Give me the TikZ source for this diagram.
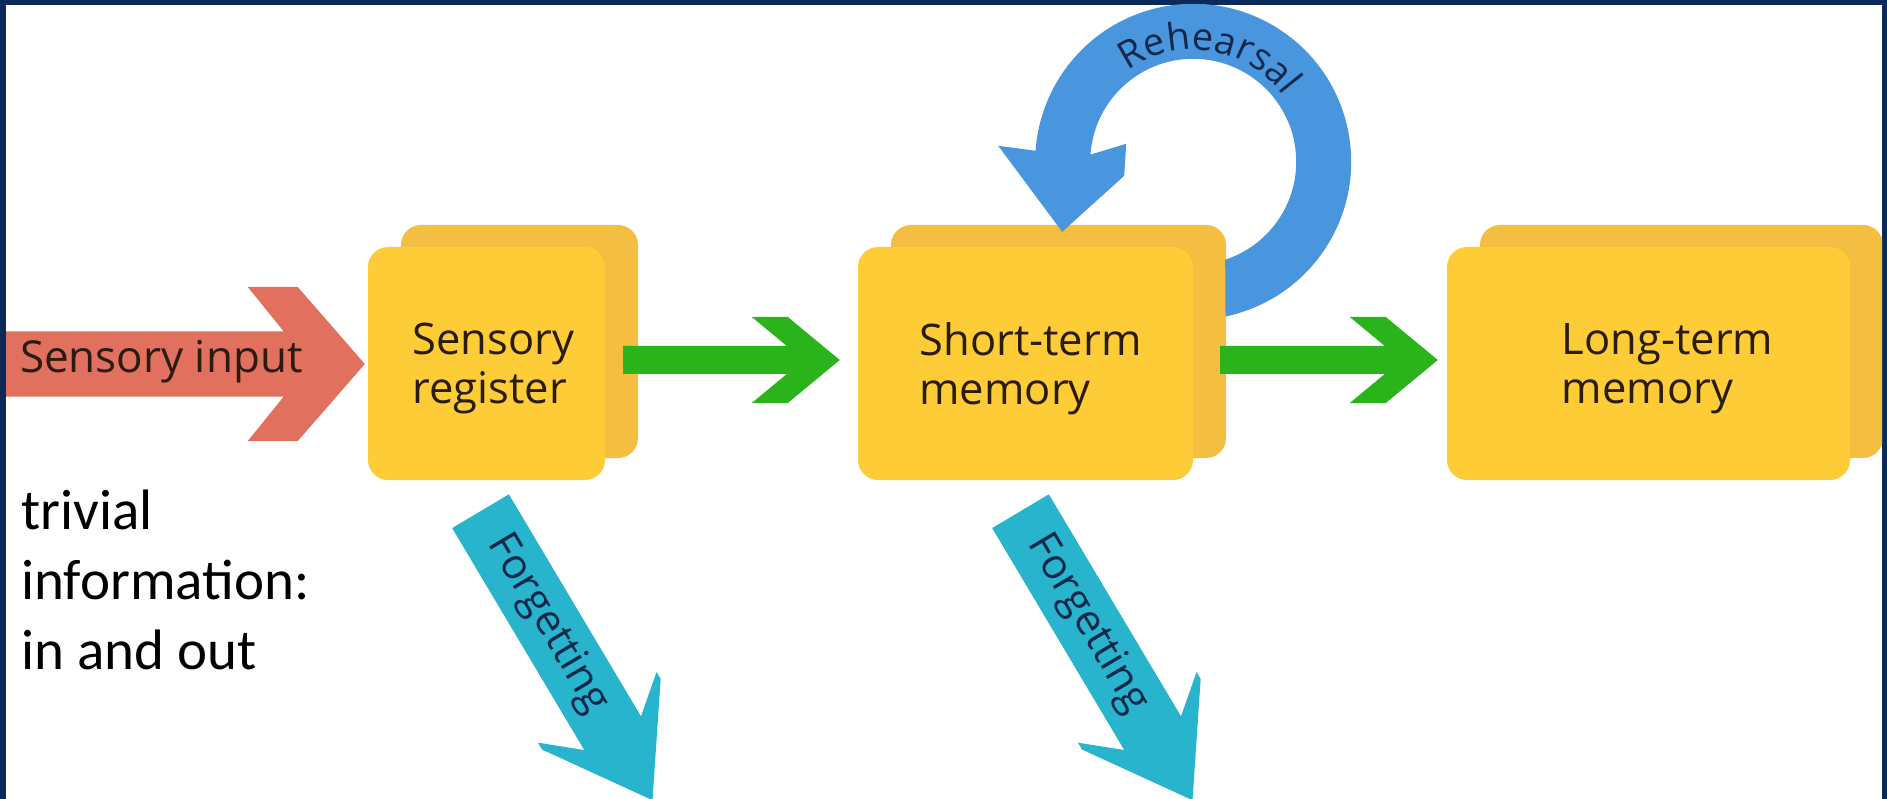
\documentclass[tikz,border=0pt]{standalone}
\usepackage{fontspec}
\setmainfont{Open Sans}
\newfontfamily\calibfont{Carlito}
\usetikzlibrary{calc,decorations.text}
\definecolor{navy}{HTML}{0B2A5A}
\definecolor{salmon}{HTML}{E2705E}
\definecolor{boxfront}{HTML}{FECC36}
\definecolor{boxback}{HTML}{F3BE42}
\definecolor{greenar}{HTML}{2BB31C}
\definecolor{bluear}{HTML}{4A96DE}
\definecolor{cyanar}{HTML}{28B4CC}
\definecolor{ink}{HTML}{2A1C10}
\definecolor{rtext}{HTML}{13294B}
\newcommand\lblfont{\fontsize{43.5}{49}\selectfont}
\newcommand\rehfont{\fontsize{38}{44}\selectfont}
% chevron block arrow: #1 start, #2 tip, #3 shaft half width, #4 head half width,
% #5 head length, #6 notch depth, #7 flat, #8 colour
\newcommand\chev[8]{%
  \path let \p1=(#1), \p2=(#2) in \pgfextra{%
    \pgfmathsetmacro\chL{veclen(\x2-\x1,\y2-\y1)}%
    \pgfmathsetmacro\chA{atan2(\y2-\y1,\x2-\x1)}%
    \xdef\chL{\chL}\xdef\chA{\chA}};
  \begin{scope}[shift={(#1)}, rotate=\chA]
    \fill[#8] (0,-#3) -- ({\chL-#5+#6},-#3) -- ({\chL-#5},-#4) -- ({\chL-#5+#7},-#4)
      -- (\chL,0) -- ({\chL-#5+#7},#4) -- ({\chL-#5},#4) -- ({\chL-#5+#6},#3) -- (0,#3) -- cycle;
  \end{scope}}
\begin{document}
\begin{tikzpicture}[x=1pt,y=-1pt,
  lbl/.style={font=\lblfont, text=ink, align=left, inner sep=0pt},
  fgt/.style={font=\fontsize{42}{48}\selectfont, text=rtext, inner sep=0pt},
  boxbase/.style={rounded corners=20pt, minimum height=233pt, inner sep=0pt},
  frontbox/.style={boxbase, fill=boxfront},
  backbox/.style={boxbase, fill=boxback}]
\useasboundingbox (0,0) rectangle (1887,799);
\fill[navy] (0,0) rectangle (1887,799);
\fill[white] (6,5) rectangle (1882,800);
\begin{scope}
\clip (6,5) rectangle (1882,800);
% box positions
\coordinate (srC) at (486.5,363.5);
\coordinate (stmC) at (1025.5,363.5);
\coordinate (ltmC) at (1648.5,363.5);
% back boxes
\node[backbox, minimum width=237pt] (srb) at ($(srC)+(33,-22)$) {};
\node[backbox, minimum width=335pt] (stmb) at ($(stmC)+(33,-22)$) {};
\node[backbox, minimum width=403pt] (ltmb) at ($(ltmC)+(33,-22)$) {};
% front boxes
\node[frontbox, minimum width=237pt] (sr) at (srC) {};
\node[frontbox, minimum width=335pt] (stm) at (stmC) {};
\node[frontbox, minimum width=403pt] (ltm) at (ltmC) {};
% sensory input arrow
\coordinate (rie) at ($(sr.west)+(-3,0.5)$);
\coordinate (ris) at ($(rie)+(-375,0)$);
\chev{ris}{rie}{32.5}{77}{117}{36}{50}{salmon}
\node[font=\fontsize{44}{50}\selectfont, text=ink, inner sep=0pt, anchor=base west] (sin) at ($(rie)+(-345,9)$) {Sensory input};
% green arrows
\coordinate (g1s) at ($(sr.east)+(18,-3.5)$);
\coordinate (g1e) at ($(stm.west)+(-18,-3.5)$);
\chev{g1s}{g1e}{14}{43}{88}{35}{36}{greenar}
\coordinate (g2s) at ($(stm.east)+(27,-3.5)$);
\coordinate (g2e) at ($(ltm.west)+(-9,-3.5)$);
\chev{g2s}{g2e}{14}{43}{88}{35}{36}{greenar}
% rehearsal loop
\coordinate (rc) at ($(stm.north east)+(0,-85)$);
\coordinate (rhl) at ($(rc)+(-195,-16)$);
\coordinate (rht) at ($(rc)+(-131,70)$);
\coordinate (rhr2) at ($(rc)+(-69,14)$);
\coordinate (rhr) at ($(rc)+(-67,-18)$);
\fill[bluear] ($(rc)+(78.2:158)$) arc[start angle=78.2, end angle=-176, radius=158]
  -- (rhl) -- (rht) -- (rhr2) -- (rhr) -- ($(rc)+(-176:103)$)
  arc[start angle=-176, end angle=71.9, radius=103] -- cycle;
\path[decorate, decoration={text along path, text={|\rehfont\color{rtext}|Rehearsal}, text align=center}]
  ($(rc)+(-163:112)$) arc[start angle=-163, end angle=1, radius=112];
% forgetting arrows
\coordinate (f1s) at ($(sr.south)+(-6,31)$);
\coordinate (f1e) at ($(f1s)+(172,289)$);
\chev{f1s}{f1e}{33}{69}{108}{30}{8}{cyanar}
\node[fgt, rotate=-59.3] (f1t) at ($(f1s)!0.39!(f1e)$) {Forgetting};
\coordinate (f2s) at ($(stm.south)+(-5,31)$);
\coordinate (f2e) at ($(f2s)+(172,289)$);
\chev{f2s}{f2e}{33}{69}{108}{30}{8}{cyanar}
\node[fgt, rotate=-59.3] (f2t) at ($(f2s)!0.39!(f2e)$) {Forgetting};
% labels
\node[lbl] (srT) at ($(sr.center)+(7,5)$) {Sensory\\register};
\node[lbl] (stmT) at ($(stm.center)+(5,5)$) {Short-term\\memory};
\node[lbl] (ltmT) at ($(ltm.center)+(19,5)$) {Long-term\\memory};
\node[font=\calibfont\fontsize{57}{70}\selectfont, text=black, align=left, inner sep=0pt, anchor=north west] (triv) at (21,490) {trivial\\information:\\in and out};
\end{scope}
\end{tikzpicture}
\end{document}
